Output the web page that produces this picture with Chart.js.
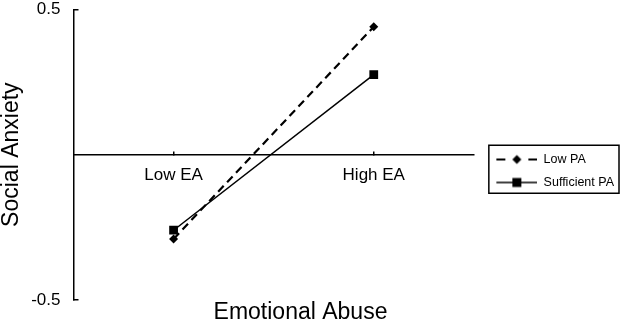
<!DOCTYPE html>
<html><head><meta charset="utf-8">
<script src="https://cdn.jsdelivr.net/npm/chart.js@4/dist/chart.umd.min.js"></script>
<style>html,body{margin:0;padding:0;background:#fff}#c{display:block}</style>
</head><body>
<canvas id="c" width="624" height="326"></canvas>
<script>
// ---- data ----
const categories = ['Low EA', 'High EA'];
const seriesNames = ['Low PA', 'Sufficient PA'];
const lowPA = [-0.29, 0.44];
const sufficientPA = [-0.26, 0.275];
const yTicks = [-0.5, 0.5];
const xTitle = 'Emotional Abuse';
const yTitle = 'Social Anxiety';

const FONT = "'Liberation Sans', Arial, sans-serif";

function legendSample(dashed) {
  const c = document.createElement('canvas');
  c.width = 53; c.height = 12;
  const g = c.getContext('2d');
  g.strokeStyle = '#000';
  g.fillStyle = '#000';
  const cx = 32.5, cy = 6;
  if (dashed) {
    g.lineWidth = 2;
    g.beginPath(); g.moveTo(12, cy); g.lineTo(21, cy); g.moveTo(44, cy); g.lineTo(53, cy); g.stroke();
    g.beginPath(); g.moveTo(cx, cy - 4.5); g.lineTo(cx + 4.5, cy); g.lineTo(cx, cy + 4.5); g.lineTo(cx - 4.5, cy); g.closePath(); g.fill();
  } else {
    g.lineWidth = 1.5;
    g.beginPath(); g.moveTo(12, cy); g.lineTo(53, cy); g.stroke();
    g.fillRect(cx - 4.5, cy - 4.5, 9, 9);
  }
  return c;
}
const samples = [legendSample(true), legendSample(false)];

const legendFrame = {
  id: 'legendFrame',
  afterLayout(chart) {
    // centre the bottom title over the plot + gap, as in the reference
    const t = chart.titleBlock;
    if (t) { t.right = t.right - 23; }
  },
  afterDraw(chart) {
    const hb = chart.legend && chart.legend.legendHitBoxes;
    if (!hb || !hb.length) return;
    const ctx = chart.ctx;
    const left = hb[0].left + 4.5;
    const top = hb[0].top - 8;
    const last = hb[hb.length - 1];
    const bottom = last.top + last.height + 4.5;
    const right = chart.width - 5;
    ctx.save();
    ctx.strokeStyle = '#000';
    ctx.lineWidth = 1.5;
    ctx.strokeRect(left, top, right - left, bottom - top);
    ctx.restore();
  }
};

Chart.defaults.color = '#000';
Chart.defaults.font.family = FONT;

new Chart(document.getElementById('c'), {
  type: 'line',
  data: {
    labels: categories,
    datasets: [
      {
        label: seriesNames[0], data: lowPA,
        borderColor: '#000', backgroundColor: '#000', borderWidth: 2.2, borderDash: [8, 5],
        pointStyle: 'rectRot', pointRadius: 4.5, pointBorderWidth: 0, tension: 0
      },
      {
        label: seriesNames[1], data: sufficientPA,
        borderColor: '#000', backgroundColor: '#000', borderWidth: 1.5,
        pointStyle: 'rect', pointRadius: 6.2, pointBorderWidth: 0, tension: 0
      }
    ]
  },
  options: {
    responsive: false,
    animation: false,
    events: [],
    layout: { padding: 0 },
    scales: {
      x: {
        type: 'category', offset: true, position: { y: 0 },
        border: { display: true, color: '#000', width: 1.5 },
        grid: { display: true, drawOnChartArea: false, drawTicks: true, tickLength: -4, color: '#000', lineWidth: 1.5 },
        ticks: { color: '#000', font: { family: FONT, size: 17 }, padding: 14, maxRotation: 0, autoSkip: false }
      },
      y: {
        min: -0.5, max: 0.5, position: 'left',
        afterBuildTicks: (s) => { s.ticks = yTicks.map(v => ({ value: v })); },
        afterFit: (s) => { s.width = 73.5; s.paddingTop = 9.3; s.paddingBottom = 9.3; },
        border: { display: true, color: '#000', width: 1.5 },
        grid: { display: true, drawOnChartArea: false, drawTicks: true, tickLength: -5, color: '#000', lineWidth: 1.5 },
        ticks: { color: '#000', font: { family: FONT, size: 17, lineHeight: 1.1 }, padding: 18, callback: (v) => String(v) },
        title: { display: true, text: yTitle, color: '#000', font: { family: FONT, size: 23, lineHeight: 1 }, padding: { top: 0.5, bottom: 0 } }
      }
    },
    plugins: {
      tooltip: { enabled: false },
      title: {
        display: true, text: xTitle, position: 'bottom', color: '#000',
        font: { family: FONT, size: 23, lineHeight: 1.13, weight: 'normal' }, padding: { top: 0, bottom: 0 }
      },
      legend: {
        position: 'right',
        title: { display: true, text: '', font: { size: 10, lineHeight: 1.2 }, padding: { top: 2, bottom: 2 } },
        labels: {
          usePointStyle: true, pointStyleWidth: 53, padding: 10.5, color: '#000',
          font: { family: FONT, size: 12.5 },
          generateLabels: (chart) => chart.data.datasets.map((ds, i) => ({
            text: ds.label, pointStyle: samples[i], datasetIndex: i,
            fillStyle: '#000', strokeStyle: '#000', lineWidth: 0, hidden: false, fontColor: '#000'
          }))
        }
      }
    }
  },
  plugins: [legendFrame]
});
</script>
</body></html>
